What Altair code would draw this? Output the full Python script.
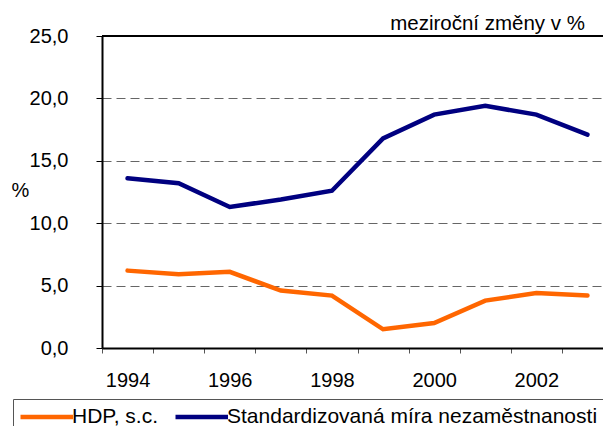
import altair as alt
import pandas as pd

years = ["1994", "1995", "1996", "1997", "1998", "1999", "2000", "2001", "2002", "2003"]
hdp = [6.2, 5.9, 6.1, 4.6, 4.2, 1.5, 2.0, 3.8, 4.4, 4.2]
unemp = [13.6, 13.2, 11.3, 11.9, 12.6, 16.8, 18.7, 19.4, 18.7, 17.1]
series_names = ["HDP, s.c.", "Standardizovaná míra nezaměstnanosti"]
series_colors = ["#FF6600", "#000080"]
y_ticks = [0, 5, 10, 15, 20, 25]
top_line = [25]
note_text = ["meziroční změny v %"]

rows = []
for y, v in zip(years, hdp):
    rows.append({"year": y, "value": v, "series": series_names[0]})
for y, v in zip(years, unemp):
    rows.append({"year": y, "value": v, "series": series_names[1]})
df = pd.DataFrame(rows)

FONT = "Liberation Sans"

x_enc = alt.X(
    "year:N",
    sort=years,
    scale=alt.Scale(type="band", paddingInner=0, paddingOuter=0, range=[0, 511]),
    axis=alt.Axis(
        title=None,
        labelExpr="parseInt(datum.value) % 2 == 0 ? datum.label : ''",
        labelAngle=0,
        labelFontSize=20,
        labelFont=FONT,
        labelColor="black",
        labelPadding=17,
        tickSize=5,
        tickColor="#555555",
        tickBand="extent",
        domainColor="black",
        domainWidth=2,
        grid=False,
    ),
)

y_scale = alt.Scale(domain=[0, 25], nice=False)

lines = alt.Chart(df).mark_line(strokeWidth=4.5, strokeCap="round").encode(
    x=x_enc,
    y=alt.Y(
        "value:Q",
        scale=y_scale,
        axis=alt.Axis(
            values=y_ticks,
            labelExpr="replace(format(datum.value, '.1f'), '.', ',')",
            labelFontSize=20,
            labelFont=FONT,
            labelColor="black",
            labelPadding=28,
            tickSize=6,
            tickColor="black",
            domainColor="black",
            domainWidth=2,
            grid=True,
            gridDash=[9, 5],
            gridColor="#666666",
            gridWidth=1,
            title="%",
            titleAngle=0,
            titleX=-82,
            titleY=154,
            titleAlign="center",
            titleBaseline="middle",
            titleFontSize=20,
            titleFont=FONT,
            titleFontWeight="normal",
            titleColor="black",
        ),
    ),
    color=alt.Color(
        "series:N",
        scale=alt.Scale(domain=series_names, range=series_colors),
        sort=series_names,
        legend=alt.Legend(
            orient="none",
            legendX=-89,
            legendY=363,
            direction="horizontal",
            title=None,
            symbolType="M-1,0H4",
            symbolStrokeWidth=4.5,
            symbolSize=441,
            labelFontSize=21,
            labelFont=FONT,
            labelColor="black",
            labelLimit=1000,
            labelOffset=28,
            columnPadding=8,
            strokeColor="#555555",
            fillColor="white",
            padding=5,
        ),
    ),
)

rule = alt.Chart(pd.DataFrame({"v": top_line})).mark_rule(color="black", strokeWidth=2).encode(
    y=alt.Y("v:Q", scale=y_scale)
)

note = alt.Chart(pd.DataFrame({"t": note_text})).mark_text(
    align="right", baseline="alphabetic", fontSize=20.5, font=FONT, color="black"
).encode(text="t:N", x=alt.value(483), y=alt.value(-6.5))

chart = (
    alt.layer(rule, lines, note)
    .properties(
        width=501,
        height=312,
        autosize="none",
        padding={"left": 94, "top": 28, "right": 0, "bottom": 78},
    )
    .configure_view(stroke=None)
)

chart.save("out.html", embed_options={"renderer": "svg", "actions": False})
